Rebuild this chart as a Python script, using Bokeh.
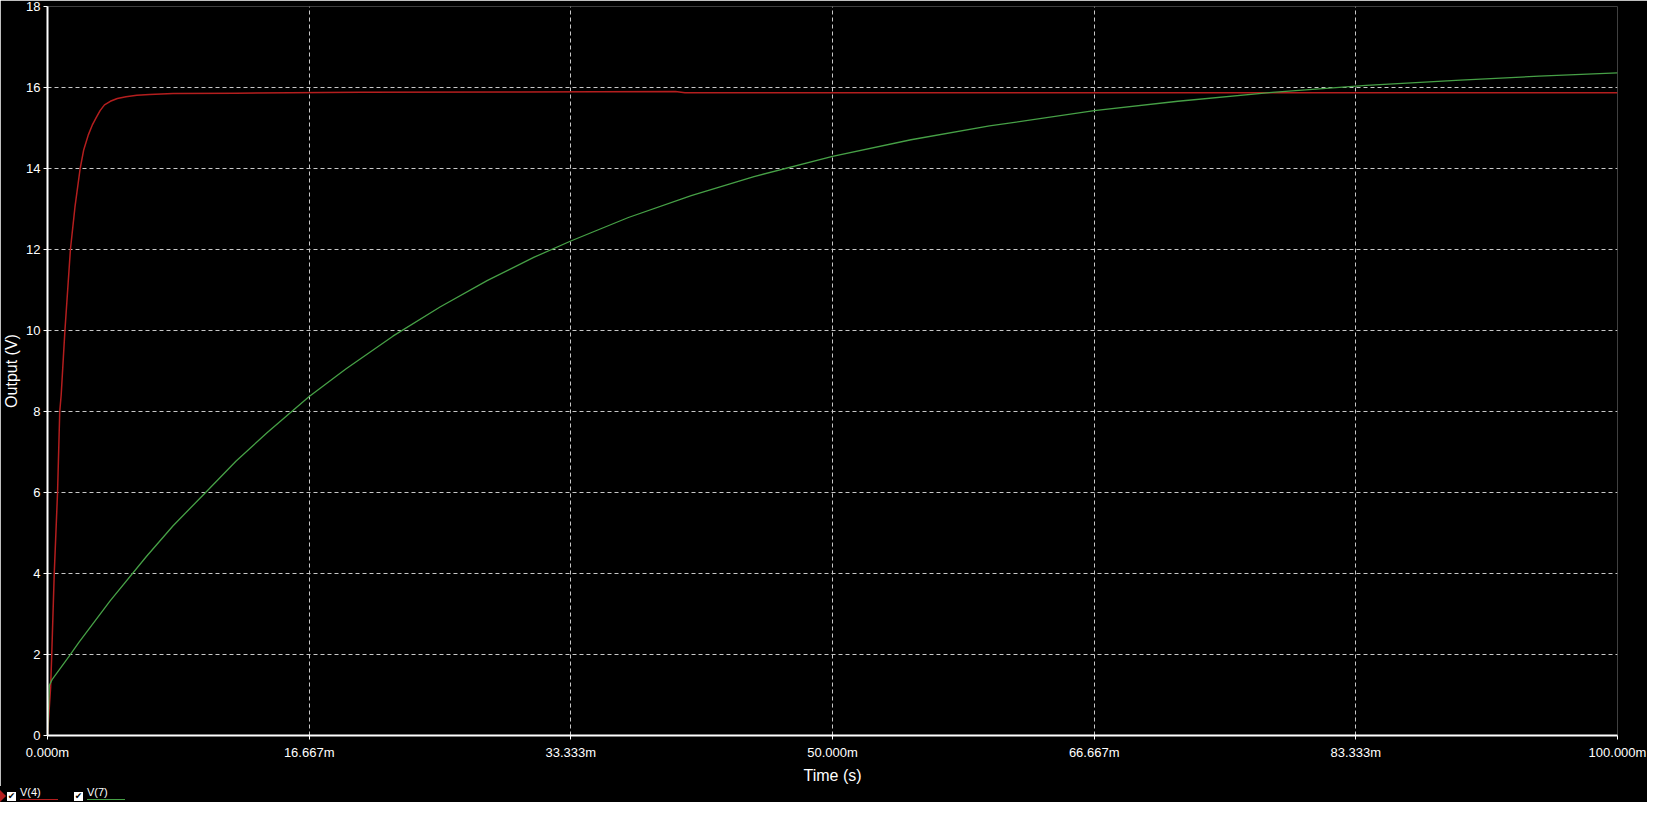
from bokeh.plotting import figure
from bokeh.models import FixedTicker, Range1d, Div
from bokeh.layouts import column
from bokeh.embed import file_html
from bokeh.resources import INLINE

# ---- data (time in ms, voltage in V) ----
t_v4 = [0, 0.1, 0.2, 0.27, 0.43, 0.64, 0.78, 0.87, 1.11, 1.46, 1.75, 2.08, 2.3, 2.6, 2.85,
        3.11, 3.35, 3.63, 4.0, 4.45, 5.0, 5.69, 6.5, 8.0, 12.0, 20.0, 30.0, 40.0, 40.6,
        60.0, 80.0, 100.0]
v_v4 = [0, 0.6, 1.2, 2.0, 4.0, 6.0, 8.0, 8.4, 10.0, 12.0, 13.05, 14.0, 14.45, 14.83, 15.07,
        15.26, 15.43, 15.57, 15.66, 15.73, 15.77, 15.81, 15.83, 15.85, 15.86, 15.88, 15.89,
        15.90, 15.87, 15.87, 15.87, 15.87]

t_v7 = [0, 0.12, 0.29, 1.36, 2.0, 4.0, 6.3, 8.0, 10.07, 12.0, 14.0, 16.67, 19.0, 22.0,
        25.0, 28.0, 31.0, 33.33, 37.0, 41.0, 45.0, 50.0, 55.0, 60.0, 66.67, 72.0, 78.0,
        84.0, 90.0, 95.0, 100.0]
v_v7 = [0, 1.24, 1.38, 1.95, 2.30, 3.33, 4.42, 5.18, 6.0, 6.77, 7.48, 8.37, 9.05, 9.86,
        10.58, 11.23, 11.81, 12.21, 12.79, 13.33, 13.80, 14.30, 14.71, 15.05, 15.43, 15.66,
        15.88, 16.05, 16.18, 16.28, 16.36]

x_ticks = [0.0, 16.667, 33.333, 50.0, 66.667, 83.333, 100.0]
x_tick_labels = ["0.000m", "16.667m", "33.333m", "50.000m", "66.667m", "83.333m", "100.000m"]
y_ticks = [0, 2, 4, 6, 8, 10, 12, 14, 16, 18]
series_names = ["V(4)", "V(7)"]
series_colors = ["#b41e1e", "#46a046"]

FONT = "Liberation Sans"

p = figure(width=1647, height=786, output_backend="svg", toolbar_location=None,
           x_range=Range1d(0, 100), y_range=Range1d(0, 18),
           background_fill_color="black", border_fill_color="black",
           min_border_left=20, min_border_right=30, min_border_top=6, min_border_bottom=0)
p.outline_line_color = None

p.line(t_v4, v_v4, line_color=series_colors[0], line_width=1.5)
p.line(t_v7, v_v7, line_color=series_colors[1], line_width=1.3)

p.xaxis.ticker = FixedTicker(ticks=x_ticks)
p.xaxis.major_label_overrides = {k: v for k, v in zip(x_ticks, x_tick_labels)}
p.yaxis.ticker = FixedTicker(ticks=y_ticks)
p.xaxis.axis_label = "Time (s)"
p.yaxis.axis_label = "Output (V)"

for ax in (p.xaxis, p.yaxis):
    ax.axis_line_color = "white"
    ax.axis_line_width = 2
    ax.major_tick_line_color = "white"
    ax.major_tick_out = 4
    ax.major_tick_in = 0
    ax.minor_tick_line_color = None
    ax.major_label_text_color = "white"
    ax.major_label_text_font = FONT
    ax.major_label_text_font_size = "13px"
    ax.axis_label_text_color = "white"
    ax.axis_label_text_font = FONT
    ax.axis_label_text_font_size = "16px"
    ax.axis_label_text_font_style = "normal"
p.xaxis.major_label_standoff = 5
p.xaxis.axis_label_standoff = 4
p.yaxis.major_label_standoff = 3
p.yaxis.axis_label_standoff = 3

for g in (p.xgrid, p.ygrid):
    g.grid_line_color = "#c8c8c8"
    g.grid_line_dash = "4 3"
    g.grid_line_width = 1
p.xgrid.ticker = FixedTicker(ticks=x_ticks[:-1])
p.ygrid.ticker = FixedTicker(ticks=y_ticks)

# ---- legend strip (HTML) ----
def check_box(left):
    return (f'<span style="position:absolute;left:{left}px;top:6px;width:9px;height:9px;'
            'background:white;color:black;font-size:9px;line-height:9px;text-align:center;'
            'font-family:DejaVu Sans;font-weight:bold;">&#10004;</span>')

items = []
items.append('<span style="position:absolute;left:0px;top:4px;width:0;height:0;'
             'border-top:6px solid transparent;border-bottom:6px solid transparent;'
             f'border-left:6px solid {series_colors[0]};"></span>')
box_x = [7, 74]
for bx, name, col in zip(box_x, series_names, series_colors):
    items.append(check_box(bx))
    items.append(f'<span style="position:absolute;left:{bx + 13}px;top:0px;color:white;'
                 f'font-family:{FONT};font-size:11px;line-height:12px;">{name}</span>')
    items.append(f'<span style="position:absolute;left:{bx + 13}px;top:13px;width:38px;'
                 f'height:1px;background:{col};"></span>')

html = ('<div style="position:relative;width:1647px;height:16px;background:black;'
        'overflow:hidden;">' + "".join(items) + '</div>')
lg = Div(text=html, width=1647, height=16, styles={"background-color": "black", "margin": "0"})

layout = column(p, lg, spacing=0)
open("out.html", "w").write(file_html(layout, INLINE))
